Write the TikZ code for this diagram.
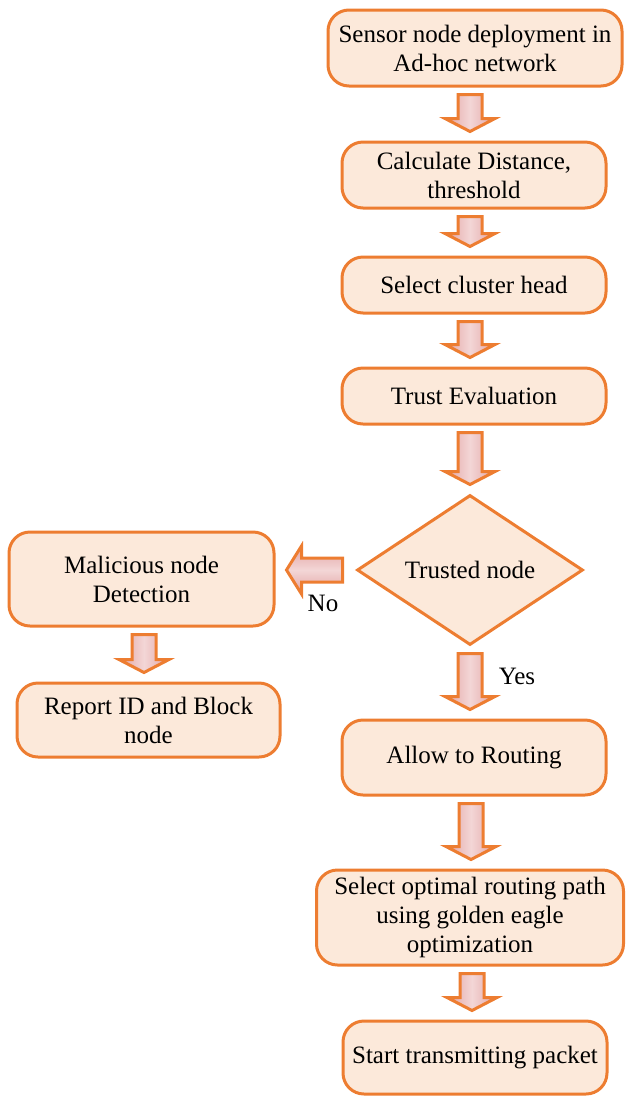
\documentclass[tikz,border=0pt]{standalone}
\usepackage{fontspec}
\setmainfont{Liberation Serif}
\usetikzlibrary{shapes.geometric,calc}
\definecolor{boxfill}{HTML}{FCE9DA}
\definecolor{boxline}{HTML}{ED7D31}
\definecolor{arredge}{HTML}{E2A3A3}
\definecolor{arrmid}{HTML}{F3D6D6}
\tikzset{
  fbox/.style={draw=boxline, fill=boxfill, line width=3pt, rounded corners=21pt,
    align=center, inner sep=0pt, font=\fontsize{25}{29}\selectfont},
  fdia/.style={draw=boxline, fill=boxfill, line width=3pt, diamond, aspect=1.5,
    inner sep=0pt, font=\fontsize{25}{29}\selectfont},
  barrv/.style={draw=boxline, line width=3pt, line join=miter, left color=arredge, right color=arredge, middle color=arrmid},
  barrh/.style={draw=boxline, line width=3pt, line join=miter, top color=arredge, bottom color=arredge, middle color=arrmid},
  lbl/.style={font=\fontsize{25}{29}\selectfont, inner sep=0pt}
}
\newcommand\varr[3]{%
  \draw[barrv] let \p1=(#1.south), \p2=(#2.north) in
    (#3pt-12pt,\y1-7pt) -- (#3pt+12pt,\y1-7pt) -- (#3pt+12pt,\y2+22pt) -- (#3pt+25pt,\y2+22pt)
    -- (#3pt,\y2+9pt) -- (#3pt-25pt,\y2+22pt) -- (#3pt-12pt,\y2+22pt) -- cycle;}
\newcommand\harr[2]{%
  \draw[barrh] let \p1=(#1.west), \p2=(#2.east) in
    (\x1-13pt,\y1+12pt) -- (\x2+26pt,\y1+12pt) -- (\x2+26pt,\y1+24pt) -- (\x2+11pt,\y1)
    -- (\x2+26pt,\y1-24pt) -- (\x2+26pt,\y1-12pt) -- (\x1-13pt,\y1-12pt) -- cycle;}
\begin{document}
\begin{tikzpicture}[x=1pt,y=-1pt]
\useasboundingbox (0,0) rectangle (625,1096);
\node[fbox, minimum width=294pt, minimum height=76pt] (b1) at (475,48) {Sensor node deployment in\\Ad-hoc network};
\node[fbox, minimum width=264pt, minimum height=66pt] (b2) at (474,175) {Calculate Distance,\\threshold};
\node[fbox, minimum width=264pt, minimum height=56pt] (b3) at (474,285) {Select cluster head};
\node[fbox, minimum width=264pt, minimum height=56pt] (b4) at (474,396) {Trust Evaluation};
\node[fdia, minimum width=226pt, minimum height=150pt] (d) at (470,570) {Trusted node};
\node[fbox, minimum width=265pt, minimum height=94pt] (m) at (141.5,579) {Malicious node\\Detection};
\node[fbox, minimum width=263pt, minimum height=74pt] (r) at (148.5,720) {Report ID and Block\\node};
\node[fbox, minimum width=264pt, minimum height=75pt] (a) at (474,757.5) {Allow to Routing};
\node[fbox, minimum width=307pt, minimum height=95pt] (s) at (470,917.5) {Select optimal routing path\\using golden eagle\\optimization};
\node[fbox, minimum width=264pt, minimum height=73pt] (t) at (475,1057.5) {Start transmitting packet};
\varr{b1}{b2}{470}
\varr{b2}{b3}{470}
\varr{b3}{b4}{470}
\varr{b4}{d}{470}
\varr{d}{a}{470}
\varr{a}{s}{471}
\varr{s}{t}{472}
\varr{m}{r}{144}
\harr{d}{m}
\node[lbl] (no) at (323,603) {No};
\node[lbl] (yes) at (517,676) {Yes};
\end{tikzpicture}
\end{document}
